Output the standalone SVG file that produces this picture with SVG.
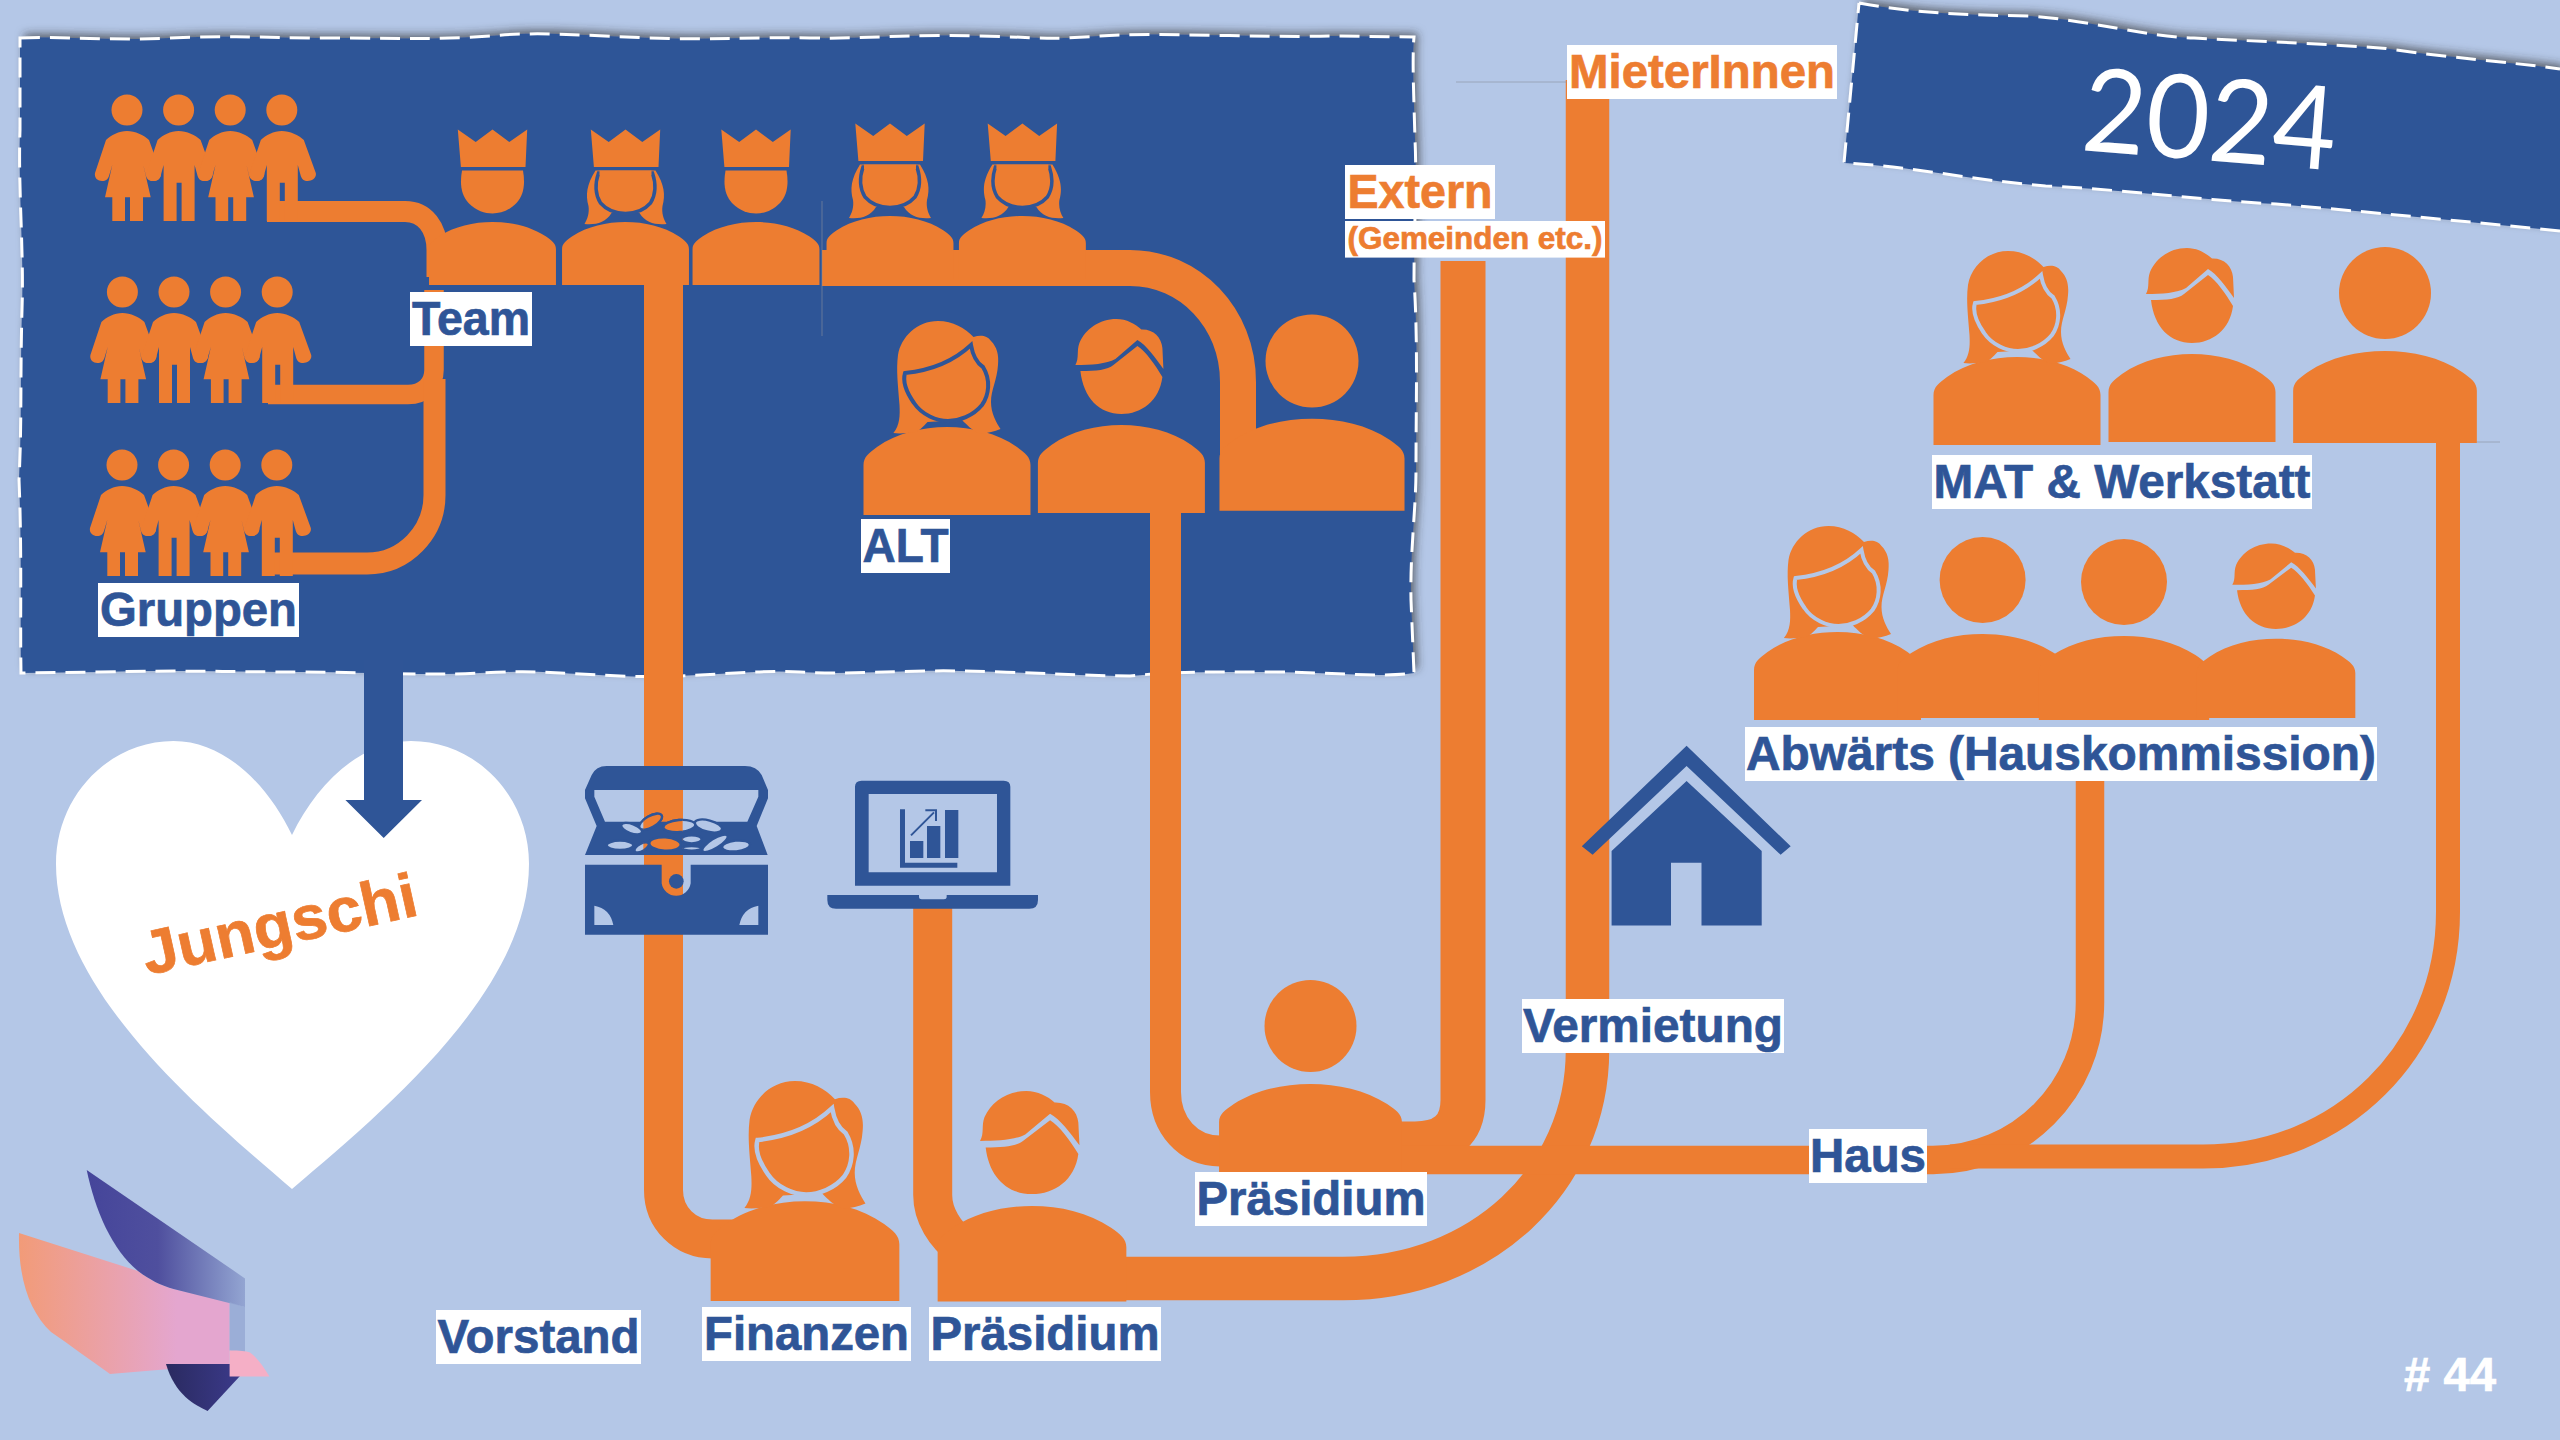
<svg xmlns="http://www.w3.org/2000/svg" xmlns:xlink="http://www.w3.org/1999/xlink" width="2560" height="1440" viewBox="0 0 2560 1440">
<style>
.o{fill:#ED7D31}
.b{fill:#2F5597}
.w{fill:#fff}
.c{fill:none;stroke:#ED7D31}
.d{fill:none;stroke:#fff;stroke-width:3;stroke-dasharray:20 10}
.t{font-family:"Liberation Sans",Arial,sans-serif;font-weight:700;font-size:48px;text-anchor:middle;fill:#2F5597;stroke:#2F5597;stroke-width:.7}
.to{fill:#ED7D31;stroke:#ED7D31}
.thin{stroke:#8a8f9e;stroke-width:1;opacity:.6;fill:none}
.face{fill:#ED7D31;stroke:currentColor;stroke-width:4}
</style>
<defs>
<filter id="sh" x="-5%" y="-5%" width="110%" height="110%"><feDropShadow dx="4" dy="-4" stdDeviation="4" flood-color="#333" flood-opacity=".65"/></filter>
<linearGradient id="g1" x1="0" y1="0" x2="1" y2="0"><stop offset="0" stop-color="#45459A"/><stop offset=".45" stop-color="#4F4F9E"/><stop offset="1" stop-color="#93A5D2"/></linearGradient>
<linearGradient id="g2" x1="0" y1="0" x2="1" y2="0"><stop offset="0" stop-color="#F29B78"/><stop offset=".75" stop-color="#E4A6CF"/></linearGradient>
<linearGradient id="g3" x1="0" y1="0" x2="1" y2="0"><stop offset="0" stop-color="#2A2A60"/><stop offset="1" stop-color="#3B3A8A"/></linearGradient>
<clipPath id="cc"><rect x="250" y="150" width="118" height="220"/></clipPath>
<path id="body" class="o" d="M-83.5,0V-50C-83.5,-58 -78,-62 -70,-68C-50,-82 -25,-88 0,-88C25,-88 50,-82 70,-68C78,-62 83.5,-58 83.5,-50V0Z"/>
<g id="woman">
<use href="#body"/>
<path class="o" d="M-53.6,-82C-47,-90 -47,-100 -47.5,-110C-49,-130 -51,-145 -49,-160C-46,-178 -30,-194 -9,-194C6,-194 18,-187 26.5,-178C33,-180 40,-180 44,-174C50,-168 52,-160 51,-150C50,-135 44,-125 44,-113C44,-102 49,-93 53.5,-86C46,-83 38,-81 31.6,-82C26,-84 20,-90 15,-95L-19.5,-93C-24,-88 -28,-84 -32,-83C-39,-82 -47,-81 -53.6,-82Z"/>
<path class="face" d="M-42,-142C-12,-145 8,-155 24,-170C26,-158 30,-152 36,-148C44,-135 42,-120 35,-110C26,-99 12,-94 1,-94C-10,-94 -25,-100 -33,-112C-40,-122 -45,-132 -42,-142Z"/>
</g>
<g id="man">
<use href="#body"/>
<path class="o" d="M-46,-148C-42,-155 -45,-162 -42,-170C-36,-184 -22,-194 -5,-194C5,-194 14,-189 20,-183.5C32,-184 40,-176 41,-165L42,-144C34,-155 25,-168 16,-173L-6,-154C-15,-149 -30,-148 -46,-148Z"/>
<path class="o" d="M-41,-142C-25,-142 -14,-143 -8,-148L16,-167C24,-162 34,-148 41,-136C38,-112 20,-99 0,-99C-22,-99 -38,-115 -41,-142Z"/>
</g>
<g id="crown"><path class="o" d="M-31.6,-118L-34.7,-155.5L-16.8,-143L0,-155.5L16.8,-143L34.7,-155.5L33,-118Z"/></g>
<g id="king">
<use href="#body" transform="scale(.76,.716)"/>
<use href="#crown"/>
<path class="o" d="M-30.5,-114.5H30.5C33,-100 31,-90 24,-82C16,-74 8,-71.6 0,-71.6C-8,-71.6 -16,-74 -24,-82C-31,-90 -33,-100 -30.5,-114.5Z"/>
</g>
<g id="queen" color="#2F5597">
<use href="#body" transform="scale(.76,.716)"/>
<use href="#crown"/>
<path class="o" d="M-30,-114.5C-39,-100 -40,-90 -37,-79C-36,-72 -38,-66 -41,-61C-30,-60 -20,-62 -14,-72H14C20,-62 30,-60 41,-61C38,-66 36,-72 37,-79C40,-90 39,-100 30,-114.5Z"/>
<path class="o" d="M-27,-112H27C31,-100 30,-90 25,-82C18,-74 10,-71.6 0,-71.6C-10,-71.6 -18,-74 -25,-82C-30,-90 -31,-100 -27,-112Z" stroke="#2F5597" stroke-width="3.5"/>
<path class="o" d="M-26,-114.500H26V-110H-26Z"/>
</g>
<g id="girl">
<circle class="o" r="15.5"/>
<path class="o" d="M0,21C-8,21 -16,25 -21,30L-32,63C-33,68 -29,71 -25,71C-21,71 -19,69 -18,66L-14.700,55L-22,87.300H-14.700V111H-2V87.300H3V111H16V87.300H23.700L16.300,55L19,66C20,69 22,71 26,71C30,71 35,68 34,63L22,30C17,25 8,21 0,21Z"/>
</g>
<g id="boy">
<circle class="o" r="15.500"/>
<path class="o" d="M0,21C-8,21 -16,25 -21,30L-32,63C-33,68 -29,71 -25,71C-21,71 -19,69 -18,66L-15,55V111H-2V72.700H3V111H16V55L19,66C20,69 22,71 26,71C30,71 35,68 34,63L22,30C17,25 8,21 0,21Z"/>
</g>
<g id="crowd">
<use href="#girl"/><use href="#boy" x="51.600"/><use href="#girl" x="103.200"/><use href="#boy" x="154.800"/>
</g>
<g id="coins" stroke="#2F5597" stroke-width="7">
<ellipse cx="215" cy="266" rx="33" ry="14" transform="rotate(20 215 266)"/>
<ellipse cx="180" cy="316" rx="40" ry="14"/>
<ellipse cx="245" cy="322" rx="24" ry="11" transform="rotate(-30 245 322)"/>
<ellipse cx="445" cy="258" rx="42" ry="17" transform="rotate(15 445 258)"/>
<ellipse cx="395" cy="298" rx="30" ry="12"/>
<ellipse cx="395" cy="325" rx="28" ry="7"/>
<ellipse cx="465" cy="310" rx="44" ry="14" transform="rotate(-32 465 310)"/>
<ellipse cx="528" cy="318" rx="42" ry="16" transform="rotate(-6 528 318)"/>
<ellipse cx="358" cy="258" rx="48" ry="18" transform="rotate(-5 358 258)"/>
<ellipse cx="272" cy="245" rx="38" ry="17" transform="rotate(-30 272 245)"/>
<ellipse cx="315" cy="312" rx="47" ry="20" transform="rotate(3 315 312)"/>
</g>
</defs>

<rect width="2560" height="1440" fill="#B4C7E7"/>

<g id="panel">
<path class="b" filter="url(#sh)" d="M20,38C60,36 110,41 170,38S260,38 330,38S430,40 490,36C540,31 590,36 650,38S750,37 810,38S900,34 980,36S1040,40 1100,36S1260,38 1330,36L1414,37C1412,60 1414,100 1415,140C1417,180 1414,230 1414,280C1418,340 1416,400 1416,470C1416,510 1410,550 1411,600L1414,673C1380,678 1330,672 1270,672S1180,671 1130,676C1090,676 1020,672 960,671S850,675 800,672S690,679 620,676S540,670 480,673S370,672 300,672S180,670 100,672L21,673C20,620 22,550 19,480C22,420 20,380 22,310C24,250 18,190 20,130Z"/>
<path class="d" d="M20,38C60,36 110,41 170,38S260,38 330,38S430,40 490,36C540,31 590,36 650,38S750,37 810,38S900,34 980,36S1040,40 1100,36S1260,38 1330,36L1414,37C1412,60 1414,100 1415,140C1417,180 1414,230 1414,280C1418,340 1416,400 1416,470C1416,510 1410,550 1411,600L1414,673C1380,678 1330,672 1270,672S1180,671 1130,676C1090,676 1020,672 960,671S850,675 800,672S690,679 620,676S540,670 480,673S370,672 300,672S180,670 100,672L21,673C20,620 22,550 19,480C22,420 20,380 22,310C24,250 18,190 20,130Z"/>
</g>

<g id="banner">
<path class="b" filter="url(#sh)" d="M1859,3C1920,14 1970,15 2029,16C2090,20 2140,36 2194,38C2270,42 2330,44 2386,48.500C2450,58 2510,62 2560,69V231C2470,222 2370,212 2276,204C2200,200 2130,190 2045.600,186C1970,180 1910,166 1844,163Z"/>
<path class="d" d="M1859,3C1920,14 1970,15 2029,16C2090,20 2140,36 2194,38C2270,42 2330,44 2386,48.500C2450,58 2510,62 2560,69M2560,231C2470,222 2370,212 2276,204C2200,200 2130,190 2045.600,186C1970,180 1910,166 1844,163L1859,3"/>
<text transform="translate(2080,150) rotate(4.600)" x="0" y="0" font-family="Lato,'Open Sans',sans-serif" font-size="116" fill="#fff" textLength="254" lengthAdjust="spacingAndGlyphs">2024</text>
</g>

<g id="jungschi">
<path class="w" d="M292,1189C200,1110 56,990 56,864C56,795 110,741 173.500,741C225,741 268,785 292,835C316,785 360,741 411,741C475,741 529,795 529,864C529,990 385,1110 292,1189Z"/>
<text class="t to" transform="translate(284,945) rotate(-12.500)" style="font-size:62px" textLength="280" lengthAdjust="spacingAndGlyphs">Jungschi</text>
<path class="b" d="M364,660H403V800H422L383.700,838L345.400,800H364Z"/>
</g>

<g id="connectors">
<path class="c" stroke-width="21" d="M267,211.500H405C425,211.500 437,228 437,250V277"/>
<path class="c" stroke-width="19.500" d="M268,394.500H408C424,394.500 434,384 434,370V290"/>
<path class="c" stroke-width="22" d="M262,563.500H367C405,563.500 434.500,532 434.500,495V379"/>
<path class="c" stroke-width="39" d="M663.500,285V1190C663.500,1218 685,1239 712.500,1239H760"/>
<path class="c" stroke-width="36" d="M822,268H1130C1190,268 1238,318 1238,382V480"/>
<path class="c" stroke-width="31" d="M1165.500,513V1092C1165.500,1125 1188,1151 1220,1151"/>
<path class="c" stroke-width="45" d="M1463,261V1100C1463,1130 1445,1144 1415,1144H1380"/>
<path class="c" stroke-width="43.500" d="M1587.500,80V1050C1587.500,1180 1480,1278.500 1343,1278.500H1100"/>
<path class="c" stroke-width="39" d="M932.700,905V1195C932.700,1215 945,1235 962,1247"/>
<path class="c" stroke-width="28.500" d="M2090,760V1002C2090,1090 2020,1160 1933,1160H1400"/>
<path class="c" stroke-width="24" d="M2448,443V912C2448,1050 2340,1156.600 2203,1156.600H1950"/>
<path class="thin" d="M822,201V336M1456,82H1567M2477,442H2500"/>
</g>

<g id="gruppen1"><use href="#crowd" transform="translate(127,110)"/></g>
<g id="gruppen2"><use href="#crowd" transform="translate(122.400,292)"/></g>
<g id="gruppen3"><use href="#crowd" transform="translate(122,465)"/></g>

<g id="team-1"><use href="#king" transform="translate(492.500,285)"/></g>
<g id="team-2"><use href="#queen" transform="translate(625.500,285)"/></g>
<g id="team-3"><use href="#king" transform="translate(756,285)"/></g>
<g id="team-4"><use href="#queen" transform="translate(890,279)"/></g>
<g id="team-5"><use href="#queen" transform="translate(1022.400,279)"/></g>

<g id="alt-1" color="#2F5597"><use href="#woman" transform="translate(947,515)"/></g>
<g id="alt-2"><use href="#man" transform="translate(1121.400,513)"/></g>
<g id="alt-3"><use href="#body" transform="translate(1312,510.700) scale(1.108,1.045)"/><ellipse class="o" cx="1312" cy="361" rx="46.500" ry="46.500"/></g>

<g id="mat-1" color="#B4C7E7"><use href="#woman" transform="translate(2017,445)"/></g>
<g id="mat-2"><use href="#man" transform="translate(2192,442)"/></g>
<g id="mat-3"><use href="#body" transform="translate(2385,443) scale(1.100,1.045)"/><ellipse class="o" cx="2385" cy="293" rx="46" ry="46"/></g>

<g id="abw-1" color="#B4C7E7"><use href="#woman" transform="translate(1837.500,720)"/></g>
<g id="abw-2"><use href="#body" transform="translate(1982.600,718) scale(1.020,.955)"/><circle class="o" cx="1982.600" cy="580" r="43"/></g>
<g id="abw-3"><use href="#body" transform="translate(2124,720) scale(1.020,.955)"/><circle class="o" cx="2124" cy="582" r="43"/></g>
<g id="abw-4"><use href="#man" transform="translate(2276,718) scale(.95,.9)"/></g>

<g id="praesidium-mitte"><use href="#body" transform="translate(1310.500,1172.400) scale(1.095,1.005)"/><ellipse class="o" cx="1310.500" cy="1026" rx="46" ry="46"/></g>
<g id="finanzen" color="#B4C7E7"><use href="#woman" transform="translate(805,1301) scale(1.130,1.134)"/></g>
<g id="praesidium-vorstand"><use href="#man" transform="translate(1032,1301.500) scale(1.130,1.085)"/></g>

<g id="chest" transform="translate(560,740) scale(.33333)">
<path class="b" fill-rule="evenodd" d="M75,150L95,105Q108,78 140,78H555Q590,78 605,105L624,150V175L590,258L623,345H75L110,258L75,175ZM103,150H595V170L562,245H135L103,170Z"/>
<use href="#coins" fill="#B4C7E7"/>
<g clip-path="url(#cc)"><use href="#coins" fill="#ED7D31"/></g>
<path class="b" fill-rule="evenodd" d="M75,374H305V430A44,44 0 0 0 392,430V374H624V584H75ZM103,497Q150,505 160,555H103ZM595,497Q548,505 538,555H595Z"/>
<circle class="b" cx="349" cy="424" r="22"/>
</g>

<g id="laptop" transform="translate(560,740) scale(.33333)">
<path class="b" fill-rule="evenodd" d="M885,140Q885,122 905,122H1331Q1351,122 1351,140V437H885ZM926,162V397H1311V162Z"/>
<path class="b" d="M802,465H1077V472Q1077,478 1085,478H1152Q1160,478 1160,472V465H1434V480Q1434,506 1408,506H828Q802,506 802,480Z"/>
<path class="b" d="M1020,208H1035V368H1192V383H1020ZM1050,303H1090V354H1050ZM1101,258H1141V354H1101ZM1155,210H1195V354H1155Z"/>
<path fill="none" stroke="#2F5597" stroke-width="6" d="M1053,286L1122,217M1096,211H1128V243"/>
</g>

<g id="house">
<path class="b" d="M1686.600,745.800L1790.700,846.300L1780.600,854.800L1686.600,766L1592.600,854.800L1581.800,846.300Z"/>
<path class="b" d="M1686.600,781L1761.700,851V925.600H1701.500V862.800H1671V925.600H1611.600V851Z"/>
</g>

<g id="logo">
<path fill="url(#g2)" d="M19,1233L138,1271C150,1280 160,1285 173.500,1289L229.600,1302V1364L110,1374C90,1360 70,1345 51,1332C30,1312 18,1280 19,1233Z"/>
<path fill="url(#g1)" d="M86.700,1170L245,1278.400V1307L173.500,1289C160,1285 150,1280 138,1271C112,1250 95,1210 86.700,1170Z"/>
<path fill="#93A5D2" opacity=".75" d="M229.600,1302L245,1307V1356.500L229.600,1350.500Z"/>
<path fill="url(#g3)" d="M166,1364H240V1376L207.600,1411C195,1405 175,1395 166,1364Z"/>
<path fill="#F5AFC6" d="M229.600,1350.500C240,1350.500 246,1351 250,1352.500C258,1358 264,1368 269.400,1376.400H229.600Z"/>
</g>

<g id="labels">
<g id="l-team"><rect class="w" x="410" y="292" width="122" height="54"/><text class="t" x="471" y="335" textLength="118" lengthAdjust="spacingAndGlyphs">Team</text></g>
<g id="l-gruppen"><rect class="w" x="98" y="583" width="201" height="54"/><text class="t" x="198.500" y="626" textLength="197" lengthAdjust="spacingAndGlyphs">Gruppen</text></g>
<g id="l-alt"><rect class="w" x="861" y="519" width="89" height="54"/><text class="t" x="905.500" y="562" textLength="86" lengthAdjust="spacingAndGlyphs">ALT</text></g>
<g id="l-extern"><rect class="w" x="1345" y="165" width="150" height="54"/><text class="t to" x="1420" y="208" textLength="145" lengthAdjust="spacingAndGlyphs">Extern</text></g>
<g id="l-gemeinden"><rect class="w" x="1345" y="221" width="260" height="36.600"/><text class="t to" x="1475" y="249" style="font-size:31px" textLength="255" lengthAdjust="spacingAndGlyphs">(Gemeinden etc.)</text></g>
<g id="l-mieter"><rect class="w" x="1567" y="45" width="270" height="54"/><text class="t to" x="1702" y="88" textLength="266" lengthAdjust="spacingAndGlyphs">MieterInnen</text></g>
<g id="l-vorstand"><rect class="w" x="436" y="1310" width="205" height="54"/><text class="t" x="538.500" y="1353" textLength="202" lengthAdjust="spacingAndGlyphs">Vorstand</text></g>
<g id="l-finanzen"><rect class="w" x="702" y="1307" width="209" height="54"/><text class="t" x="806.500" y="1350" textLength="205" lengthAdjust="spacingAndGlyphs">Finanzen</text></g>
<g id="l-praes1"><rect class="w" x="929" y="1307" width="232" height="54"/><text class="t" x="1045" y="1350" textLength="229" lengthAdjust="spacingAndGlyphs">Präsidium</text></g>
<g id="l-praes2"><rect class="w" x="1195" y="1172" width="232" height="54"/><text class="t" x="1311" y="1215" textLength="229" lengthAdjust="spacingAndGlyphs">Präsidium</text></g>
<g id="l-vermietung"><rect class="w" x="1522" y="999" width="262" height="54"/><text class="t" x="1653" y="1042" textLength="260" lengthAdjust="spacingAndGlyphs">Vermietung</text></g>
<g id="l-haus"><rect class="w" x="1809" y="1129" width="118" height="54"/><text class="t" x="1868" y="1172" textLength="116" lengthAdjust="spacingAndGlyphs">Haus</text></g>
<g id="l-abw"><rect class="w" x="1745" y="727" width="632" height="54"/><text class="t" x="2061" y="770" textLength="630" lengthAdjust="spacingAndGlyphs">Abwärts (Hauskommission)</text></g>
<g id="l-mat"><rect class="w" x="1932" y="455" width="380" height="54"/><text class="t" x="2122" y="498" textLength="377" lengthAdjust="spacingAndGlyphs">MAT &amp; Werkstatt</text></g>
<text class="t" x="2450" y="1391" style="fill:#fff;stroke:#fff" textLength="92" lengthAdjust="spacingAndGlyphs"># 44</text>
</g>
</svg>
